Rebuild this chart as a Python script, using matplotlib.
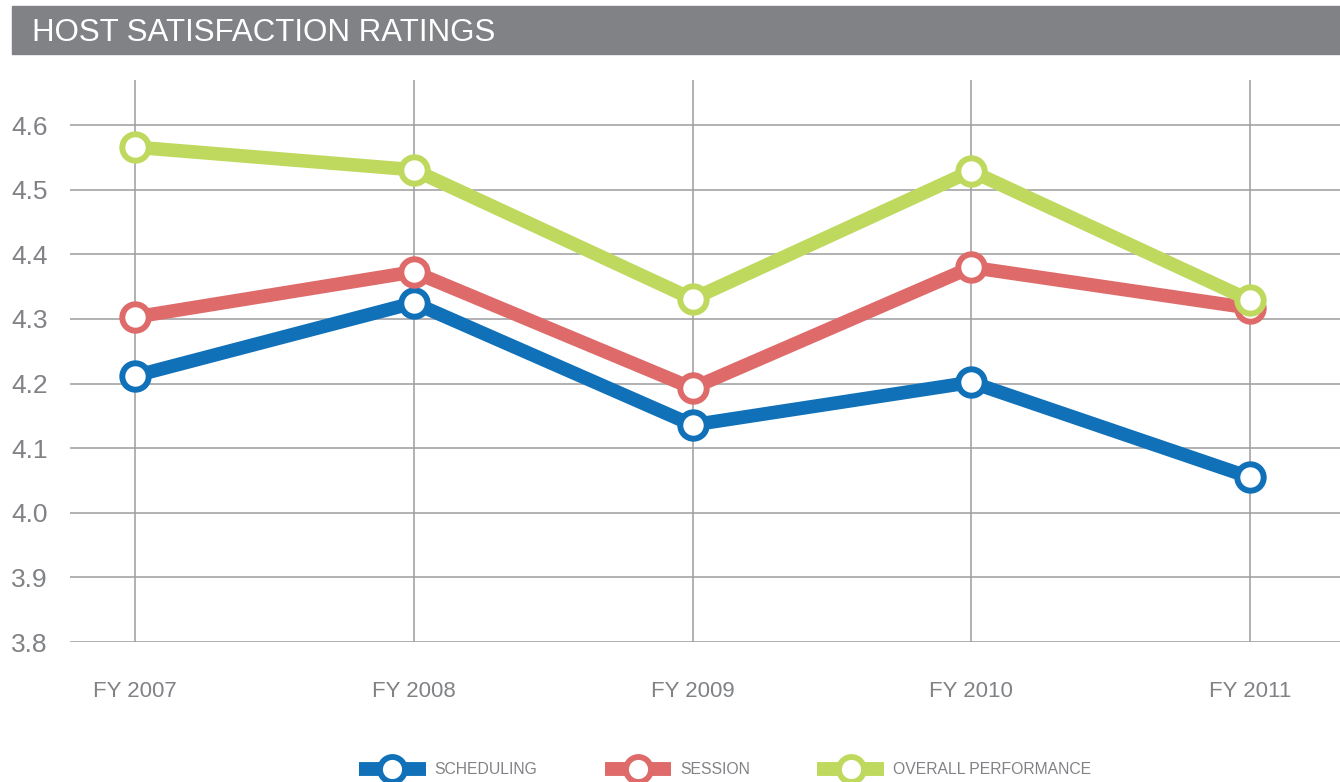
import matplotlib
matplotlib.use("Agg")
from matplotlib import pyplot as plt
from matplotlib.patches import Rectangle

plt.rcParams["font.family"] = ["Liberation Sans", "DejaVu Sans"]

# data
years = ["FY 2007", "FY 2008", "FY 2009", "FY 2010", "FY 2011"]
scheduling = [4.212, 4.325, 4.136, 4.202, 4.055]
session = [4.303, 4.373, 4.193, 4.380, 4.317]
overall = [4.566, 4.531, 4.331, 4.529, 4.329]
y_ticks = [3.8, 3.9, 4.0, 4.1, 4.2, 4.3, 4.4, 4.5, 4.6]

series = [
    ("SCHEDULING", scheduling, "#1071b9"),
    ("SESSION", session, "#de6b6a"),
    ("OVERALL PERFORMANCE", overall, "#bed95d"),
]

W, H = 1340, 782
fig = plt.figure(figsize=(W / 100, H / 100), dpi=100)

# title band
fig.patches.append(Rectangle((12 / W, 1 - 54 / H), 1 - 12 / W, 48 / H,
                             transform=fig.transFigure, color="#808285", zorder=0))
fig.text(32 / W, 1 - 33 / H, "HOST SATISFACTION RATINGS", color="white",
         fontsize=22.5, va="center", ha="left")

ax = fig.add_axes([70 / W, 1 - 642 / H, 1270 / W, 562 / H])
x = list(range(len(years)))

handles = []
for name, vals, col in series:
    ln, = ax.plot(x, vals, color=col, lw=9.8, marker="o", markersize=19,
                  markerfacecolor="white", markeredgecolor=col,
                  markeredgewidth=4.3, solid_capstyle="butt", label=name, zorder=3)
    handles.append(ln)

ax.set_xlim(-65 / 278.75, 4 + 90 / 278.75)
ax.set_ylim(3.8, 3.8 + 562 / 646)
ax.set_xticks(x)
ax.set_xticklabels(years)
ax.set_yticks(y_ticks)
ax.set_yticklabels([f"{v:.1f}" for v in y_ticks])

for s in ax.spines.values():
    s.set_visible(False)
ax.tick_params(length=0, colors="#808285")
ax.tick_params(axis="x", pad=28, labelsize=16)
ax.tick_params(axis="y", pad=16, labelsize=19)
for lab in ax.get_yticklabels():
    lab.set_horizontalalignment("right")

# gridlines: horizontal ones only at the ticks, vertical ones full height
for v in y_ticks:
    ax.axhline(v, color="#9d9d9f", lw=1.1, zorder=1)
for xi in x:
    ax.axvline(xi, color="#9d9d9f", lw=1.1, zorder=1)

leg = fig.legend(handles=handles, loc="center", bbox_to_anchor=(725 / W, 1 - 770 / H),
                 ncol=3, frameon=False, fontsize=11.3, handlelength=4.25,
                 handletextpad=0.55, columnspacing=4.3)
for t in leg.get_texts():
    t.set_color("#808285")
for lh in leg.legend_handles:
    lh.set_linewidth(10)
    lh.set_markersize(18)
    lh.set_markeredgewidth(4.2)

fig.savefig("out.png", dpi=100)
